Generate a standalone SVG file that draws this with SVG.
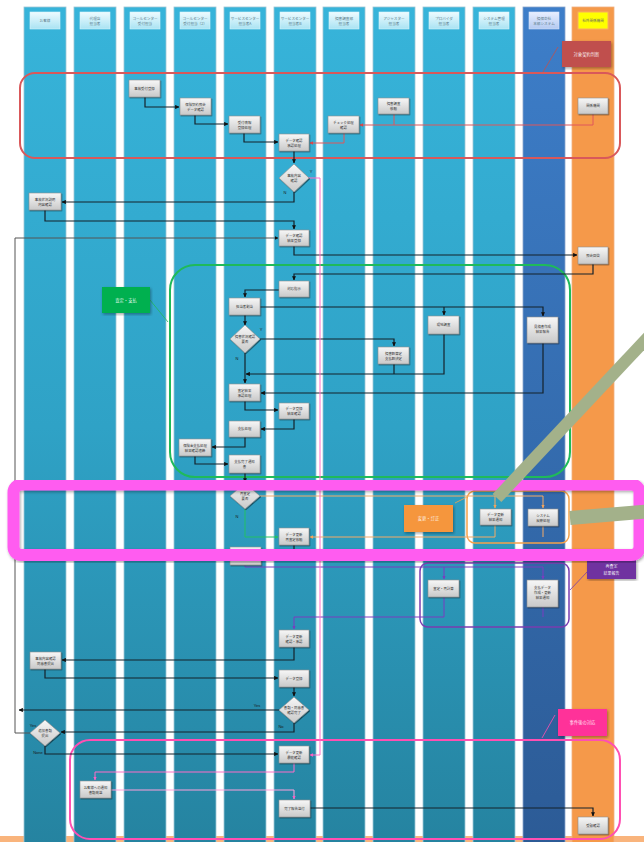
<svg xmlns="http://www.w3.org/2000/svg" width="644" height="842" viewBox="0 0 644 842">
<defs>
<linearGradient id="gl" x1="0" y1="0" x2="0" y2="1"><stop offset="0" stop-color="#37b4da"/><stop offset="0.5" stop-color="#2fa2c6"/><stop offset="1" stop-color="#2583a0"/></linearGradient>
<linearGradient id="gb" x1="0" y1="0" x2="0" y2="1"><stop offset="0" stop-color="#3d7ec9"/><stop offset="1" stop-color="#2c5b96"/></linearGradient>
<linearGradient id="gh" x1="0" y1="0" x2="0" y2="1"><stop offset="0" stop-color="#eefbff"/><stop offset="1" stop-color="#a9e3f3"/></linearGradient>
<linearGradient id="ghb" x1="0" y1="0" x2="0" y2="1"><stop offset="0" stop-color="#e8efff"/><stop offset="1" stop-color="#b3c9f0"/></linearGradient>
<linearGradient id="gn" x1="0" y1="0" x2="0" y2="1"><stop offset="0" stop-color="#f7f7f7"/><stop offset="1" stop-color="#c9c9c9"/></linearGradient>
<filter id="sh" x="-20%" y="-20%" width="150%" height="160%"><feDropShadow dx="0.8" dy="1" stdDeviation="0.7" flood-color="#000" flood-opacity="0.5"/></filter>
<filter id="sh2" x="-5%" y="-5%" width="110%" height="115%"><feDropShadow dx="1" dy="1.5" stdDeviation="1.5" flood-color="#000" flood-opacity="0.35"/></filter>
<marker id="ak" viewBox="0 0 6 6" refX="5.5" refY="3" markerWidth="3.5" markerHeight="3.5" orient="auto"><path d="M0,0 L6,3 L0,6 z" fill="#111"/></marker>
<marker id="ar" viewBox="0 0 6 6" refX="5.5" refY="3" markerWidth="3.5" markerHeight="3.5" orient="auto"><path d="M0,0 L6,3 L0,6 z" fill="#d9484b"/></marker>
<marker id="ap" viewBox="0 0 6 6" refX="5.5" refY="3" markerWidth="3.5" markerHeight="3.5" orient="auto"><path d="M0,0 L6,3 L0,6 z" fill="#ff5fc4"/></marker>
<marker id="ag" viewBox="0 0 6 6" refX="5.5" refY="3" markerWidth="3.5" markerHeight="3.5" orient="auto"><path d="M0,0 L6,3 L0,6 z" fill="#22c065"/></marker>
<marker id="ao" viewBox="0 0 6 6" refX="5.5" refY="3" markerWidth="3.5" markerHeight="3.5" orient="auto"><path d="M0,0 L6,3 L0,6 z" fill="#f5a45a"/></marker>
<marker id="av" viewBox="0 0 6 6" refX="5.5" refY="3" markerWidth="3.5" markerHeight="3.5" orient="auto"><path d="M0,0 L6,3 L0,6 z" fill="#7a3cc0"/></marker>
</defs>
<style>
.lane{fill:url(#gl);stroke:#9cc6d4;stroke-width:0.8}
.hd{fill:url(#gh);stroke:#d8f3fb;stroke-width:0.6}
.nd{fill:url(#gn);stroke:#8e8e8e;stroke-width:0.6;filter:url(#sh)}
.t{font-family:"Noto Sans CJK JP","Noto Sans",sans-serif;font-size:3.4px;fill:#333;text-anchor:middle}
.ht{font-family:"Noto Sans CJK JP","Noto Sans",sans-serif;font-size:3.6px;fill:#5a7a88;text-anchor:middle}
.lt{font-family:"Noto Sans CJK JP","Noto Sans",sans-serif;font-size:4.3px;fill:#fff;fill-opacity:0.9;text-anchor:middle}
.yn{font-family:"Liberation Sans",sans-serif;font-size:4px;fill:#1a1a1a;text-anchor:middle}
.c{fill:none;stroke:#14222b;stroke-width:1.2;marker-end:url(#ak)}
.cr{fill:none;stroke:#e0575a;stroke-width:1;marker-end:url(#ar)}
.cp{fill:none;stroke:#ff6cc8;stroke-width:1;marker-end:url(#ap)}
.cg{fill:none;stroke:#22c065;stroke-width:1;marker-end:url(#ag)}
.co{fill:none;stroke:#f5aa66;stroke-width:1;marker-end:url(#ao)}
.cv{fill:none;stroke:#7a3cc0;stroke-width:1;marker-end:url(#av)}
.grp{fill:none}
</style>
<rect width="644" height="842" fill="#fff"/>
<rect x="0" y="836" width="644" height="6" fill="#f9b47c"/>
<g id="lanes">
<rect class="lane" x="24" y="7" width="42" height="840"/>
<rect class="lane" x="74" y="7" width="42" height="840"/>
<rect class="lane" x="124" y="7" width="42" height="840"/>
<rect class="lane" x="174" y="7" width="42" height="840"/>
<rect class="lane" x="224" y="7" width="42" height="840"/>
<rect class="lane" x="274" y="7" width="42" height="840"/>
<rect class="lane" x="323" y="7" width="42" height="840"/>
<rect class="lane" x="373" y="7" width="42" height="840"/>
<rect class="lane" x="423" y="7" width="42" height="840"/>
<rect class="lane" x="473" y="7" width="42" height="840"/>
<rect x="523" y="7" width="42" height="840" fill="url(#gb)" stroke="#8aa6cc" stroke-width="0.8"/>
<rect x="572" y="7" width="42" height="840" fill="#f5994a" stroke="#f0b080" stroke-width="0.8"/>
</g>
<g id="headers">
<rect class="hd" x="30" y="12" width="30" height="17"/><text class="ht" x="45" y="21.5">お客様</text>
<rect class="hd" x="80" y="12" width="30" height="17"/><text class="ht" x="95" y="19.5">代理店</text><text class="ht" x="95" y="24.5">担当者</text>
<rect class="hd" x="130" y="12" width="30" height="17"/><text class="ht" x="145" y="19.5">コールセンター</text><text class="ht" x="145" y="24.5">受付担当</text>
<rect class="hd" x="180" y="12" width="30" height="17"/><text class="ht" x="195" y="19.5">コールセンター</text><text class="ht" x="195" y="24.5">受付担当（2）</text>
<rect class="hd" x="230" y="12" width="30" height="17"/><text class="ht" x="245" y="19.5">サービスセンター</text><text class="ht" x="245" y="24.5">担当者A</text>
<rect class="hd" x="280" y="12" width="30" height="17"/><text class="ht" x="295" y="19.5">サービスセンター</text><text class="ht" x="295" y="24.5">担当者B</text>
<rect class="hd" x="329" y="12" width="30" height="17"/><text class="ht" x="344" y="19.5">損害調査部</text><text class="ht" x="344" y="24.5">担当者</text>
<rect class="hd" x="379" y="12" width="30" height="17"/><text class="ht" x="394" y="19.5">アジャスター</text><text class="ht" x="394" y="24.5">担当者</text>
<rect class="hd" x="429" y="12" width="30" height="17"/><text class="ht" x="444" y="19.5">プロバイダ</text><text class="ht" x="444" y="24.5">担当者</text>
<rect class="hd" x="479" y="12" width="30" height="17"/><text class="ht" x="494" y="19.5">システム管理</text><text class="ht" x="494" y="24.5">担当者</text>
<rect x="529" y="12" width="30" height="17" fill="url(#ghb)" stroke="#d8e4fb" stroke-width="0.6"/><text class="ht" x="544" y="19.5">損保会社</text><text class="ht" x="544" y="24.5">本部システム</text>
<rect x="578" y="12" width="30" height="17" fill="#ffff00" stroke="#f7b060" stroke-width="1"/><text class="ht" x="593" y="21.5" style="fill:#666">社外関係機関</text>
</g>
<g id="groups">
<rect id="grp-red" class="grp" x="20" y="73" width="600" height="85" rx="15" stroke="#d9585a" stroke-width="2"/>
<rect id="grp-green" class="grp" x="170" y="265" width="400" height="212" rx="25" stroke="#1fba5a" stroke-width="2"/>
<rect id="grp-orange" class="grp" x="467" y="491" width="102" height="52" rx="8" stroke="#f6a24a" stroke-width="1.5"/>
<rect id="grp-purple" class="grp" x="420" y="563" width="149" height="64" rx="8" stroke="#7a3cb0" stroke-width="1.5"/>
<rect id="grp-pink" class="grp" x="70" y="740" width="550" height="99" rx="20" stroke="#ff4fb2" stroke-width="2"/>
</g>
<g id="connectors">
<path class="c" d="M145,97 V107 H179"/>
<path class="c" d="M195,115 V124 H228"/>
<path class="c" d="M244,133 V142 H278"/>
<path class="c" d="M294,151 V163"/>
<path class="c" d="M294,192 V202 H62"/>
<path class="c" d="M45,210 V221 H294 V229"/>
<path class="c" d="M30,733 H15 V238 H278" style="stroke:#555;stroke-width:1"/>
<path class="c" d="M294,246 V255 H577"/>
<path class="c" d="M593,264 V274 H294 V280"/>
<path class="c" d="M279,290 H245 V297"/>
<path class="c" d="M260,307 H543 V316"/>
<path class="c" d="M444,307 V315"/>
<path class="c" d="M245,315 V325"/>
<path class="c" d="M260,339 H394 V346"/>
<path class="c" d="M444,334 V374 H246"/>
<path class="c" d="M394,364 V374" style="marker-end:none"/>
<path class="c" d="M245,353 V383"/>
<path class="c" d="M543,343 V393 H261"/>
<path class="c" d="M245,401 V410 H278"/>
<path class="c" d="M294,419 V429 H261"/>
<path class="c" d="M245,437 V447 H212"/>
<path class="c" d="M195,456 V464 H228"/>
<path class="c" d="M245,473 V482"/>
<path class="co" d="M260,496 H543 V508"/>
<path class="co" d="M495,496 V508"/>
<path class="co" d="M495,525 V537 H310"/>
<path class="co" d="M543,526 V537" style="marker-end:none"/>
<path class="cg" d="M245,509 V537 H278"/>
<path class="c" d="M294,545 V556 H262"/>
<path class="cv" d="M245,565 V567 H543 V579"/>
<path class="cv" d="M444,567 V579"/>
<path class="cv" d="M444,597 V617 H294 V629"/>
<path class="cv" d="M543,607 V617" style="marker-end:none"/>
<path class="c" d="M294,647 V660 H62"/>
<path class="c" d="M45,669 V678 H278"/>
<path class="c" d="M294,687 V696"/>
<path class="c" d="M279,710 H19"/>
<path class="c" d="M294,723 V732 H61"/>
<path class="c" d="M45,746 V754 H278"/>
<path class="cp" d="M308,178 H320 V755 H310"/>
<path class="cp" d="M294,763 V772 H95 V780"/>
<path class="cp" d="M111,790 H294 V799" style="stroke:#ffa0dc"/>
<path class="c" d="M310,808 H593 V816"/>
<path class="cr" d="M593,114 V125 H360"/>
<path class="cr" d="M394,114 V125" style="marker-end:none"/>
<path class="cr" d="M344,133 V143 H310"/>
<path d="M558,47 L543,72" stroke="#c0504d" stroke-width="0.8" fill="none"/>
<path d="M150,300 L168,322" stroke="#1fba5a" stroke-width="0.8" fill="none"/>
<path d="M455,503 L467,497" stroke="#f6a24a" stroke-width="0.8" fill="none"/>
<path d="M587,572 L570,590" stroke="#7a3cb0" stroke-width="0.8" fill="none"/>
<path d="M555,715 L542,738" stroke="#ff4fb2" stroke-width="0.8" fill="none"/>
<text class="yn" x="311" y="173">Y</text><text class="yn" x="285" y="194">N</text>
<text class="yn" x="261" y="331">Y</text><text class="yn" x="237" y="360">N</text>
<text class="yn" x="237" y="518">N</text>
<text class="yn" x="257" y="707">Yes</text><text class="yn" x="281" y="728">No</text>
<text class="yn" x="33" y="727">Yes</text><text class="yn" x="38" y="754">None</text>
</g>
<g id="nA"><rect class="nd" x="129" y="80" width="31" height="17"/><text class="t" x="144.5" y="89.8">事故受付登録</text></g>
<g id="nB"><rect class="nd" x="180" y="98" width="31" height="17"/><text class="t" x="195.5" y="105.5">保険契約照会</text><text class="t" x="195.5" y="110.5">データ確認</text></g>
<g id="nC"><rect class="nd" x="229" y="116" width="31" height="17"/><text class="t" x="244.5" y="123.5">受付情報</text><text class="t" x="244.5" y="128.5">登録処理</text></g>
<g id="nD"><rect class="nd" x="279" y="134" width="30" height="17"/><text class="t" x="294" y="141.5">データ確認</text><text class="t" x="294" y="146.5">承認処理</text></g>
<g id="nE"><rect class="nd" x="328" y="116" width="31" height="17"/><text class="t" x="343.5" y="123.5">チェック処理</text><text class="t" x="343.5" y="128.5">確認</text></g>
<g id="nF"><rect class="nd" x="378" y="98" width="31" height="16"/><text class="t" x="393.5" y="105">損害調査</text><text class="t" x="393.5" y="110">依頼</text></g>
<g id="nG"><rect class="nd" x="578" y="98" width="30" height="16"/><text class="t" x="593" y="107.2">関係機関</text></g>
<g id="d1"><path class="nd" d="M294,164 L309,178 L294,192 L279,178 Z"/><text class="t" x="294" y="177">事故内容</text><text class="t" x="294" y="181.5">確認</text></g>
<g id="nH"><rect class="nd" x="29" y="193" width="32" height="17"/><text class="t" x="45" y="200.5">事故状況説明</text><text class="t" x="45" y="205.5">内容確認</text></g>
<g id="nI"><rect class="nd" x="279" y="230" width="30" height="16"/><text class="t" x="294" y="237">データ確認</text><text class="t" x="294" y="242">結果登録</text></g>
<g id="nJ"><rect class="nd" x="578" y="247" width="30" height="17"/><text class="t" x="593" y="256.7">照会回答</text></g>
<g id="nK"><rect class="nd" x="279" y="281" width="30" height="16"/><text class="t" x="294" y="290.2">対応指示</text></g>
<g id="nL"><rect class="nd" x="229" y="298" width="31" height="17"/><text class="t" x="244.5" y="307.7">担当者割当</text></g>
<g id="d2"><path class="nd" d="M245,325 L260,339 L245,353 L230,339 Z"/><text class="t" x="245" y="338">損害状況確認</text><text class="t" x="245" y="342.5">要否</text></g>
<g id="nP"><rect class="nd" x="428" y="316" width="31" height="18"/><text class="t" x="443.5" y="326.2">現地調査</text></g>
<g id="nQ"><rect class="nd" x="527" y="317" width="31" height="26"/><text class="t" x="542.5" y="328">見積書作成</text><text class="t" x="542.5" y="333">結果報告</text></g>
<g id="nR"><rect class="nd" x="378" y="347" width="31" height="17"/><text class="t" x="393.5" y="354.5">損害額算定</text><text class="t" x="393.5" y="359.5">支払額決定</text></g>
<g id="nS"><rect class="nd" x="229" y="384" width="31" height="17"/><text class="t" x="244.5" y="391.5">査定結果</text><text class="t" x="244.5" y="396.5">承認処理</text></g>
<g id="nT"><rect class="nd" x="279" y="403" width="30" height="16"/><text class="t" x="294" y="410">データ登録</text><text class="t" x="294" y="415">結果確認</text></g>
<g id="nU"><rect class="nd" x="229" y="421" width="31" height="16"/><text class="t" x="244.5" y="430.2">支払処理</text></g>
<g id="nV"><rect class="nd" x="179" y="439" width="32" height="17"/><text class="t" x="195" y="446.5">保険金支払処理</text><text class="t" x="195" y="451.5">結果確認連絡</text></g>
<g id="nW"><rect class="nd" x="229" y="455" width="31" height="18"/><text class="t" x="244.5" y="463">支払完了通知</text><text class="t" x="244.5" y="468">書</text></g>
<g id="d3"><path class="nd" d="M245,483 L260,496 L245,509 L230,496 Z"/><text class="t" x="245" y="495">再査定</text><text class="t" x="245" y="499.5">要否</text></g>
<g id="nX"><rect class="nd" x="279" y="528" width="30" height="17"/><text class="t" x="294" y="535.5">データ更新</text><text class="t" x="294" y="540.5">再査定依頼</text></g>
<g id="nY"><rect class="nd" x="480" y="509" width="31" height="16"/><text class="t" x="495.5" y="516">データ更新</text><text class="t" x="495.5" y="521">結果通知</text></g>
<g id="nZ"><rect class="nd" x="528" y="509" width="30" height="17"/><text class="t" x="543" y="516.5">システム</text><text class="t" x="543" y="521.5">反映処理</text></g>
<g id="nW2"><rect class="nd" x="230" y="547" width="31" height="18"/><text class="t" x="245.5" y="557.2">再査定</text></g>
<g id="nAA"><rect class="nd" x="428" y="580" width="31" height="17"/><text class="t" x="443.5" y="589.7">査定・再計算</text></g>
<g id="nAB"><rect class="nd" x="527" y="580" width="31" height="27"/><text class="t" x="542.5" y="588.5">支払データ</text><text class="t" x="542.5" y="593.5">作成・更新</text><text class="t" x="542.5" y="598.5">結果通知</text></g>
<g id="nAC"><rect class="nd" x="279" y="630" width="30" height="17"/><text class="t" x="294" y="637.5">データ更新</text><text class="t" x="294" y="642.5">確認・承認</text></g>
<g id="nAD"><rect class="nd" x="30" y="652" width="31" height="17"/><text class="t" x="45.5" y="659.5">事故内容確認</text><text class="t" x="45.5" y="664.5">同意書提出</text></g>
<g id="nAE"><rect class="nd" x="279" y="670" width="30" height="17"/><text class="t" x="294" y="679.7">データ登録</text></g>
<g id="d4"><path class="nd" d="M294,697 L309,710 L294,723 L279,710 Z"/><text class="t" x="294" y="709">書類・同意書</text><text class="t" x="294" y="713.5">確認完了</text></g>
<g id="d5"><path class="nd" d="M45,720 L60,733 L45,746 L30,733 Z"/><text class="t" x="45" y="732">追加書類</text><text class="t" x="45" y="736.5">提出</text></g>
<g id="nAF"><rect class="nd" x="279" y="746" width="30" height="17"/><text class="t" x="294" y="753.5">データ更新</text><text class="t" x="294" y="758.5">最終確認</text></g>
<g id="nAG"><rect class="nd" x="80" y="781" width="31" height="17"/><text class="t" x="95.5" y="788.5">お客様への通知</text><text class="t" x="95.5" y="793.5">書類発送</text></g>
<g id="nAH"><rect class="nd" x="279" y="800" width="31" height="17"/><text class="t" x="294.5" y="809.7">完了報告送付</text></g>
<g id="nAI"><rect class="nd" x="578" y="817" width="30" height="17"/><text class="t" x="593" y="826.7">受領確認</text></g>
<g id="lbl-red"><rect x="562" y="41" width="49" height="26" fill="#c0504d" filter="url(#sh2)"/><text class="lt" x="586.5" y="55.5">対象契約判断</text></g>
<g id="lbl-green"><rect x="102" y="287" width="48" height="26" fill="#00b050" filter="url(#sh2)"/><text class="lt" x="126" y="301.5">査定・支払</text></g>
<g id="lbl-orange"><rect x="404" y="505" width="49" height="27" fill="#f5963d" filter="url(#sh2)"/><text class="lt" x="428.5" y="520">変更・訂正</text></g>
<g id="lbl-purple"><rect x="587" y="560" width="49" height="19" fill="#7030a0" filter="url(#sh2)"/><text class="lt" x="611.5" y="568" style="font-size:4px">再査定</text><text class="lt" x="611.5" y="574.5" style="font-size:4px">結果報告</text></g>
<g id="lbl-pink"><rect x="558" y="709" width="49" height="27" fill="#ff3399" filter="url(#sh2)"/><text class="lt" x="582.5" y="724">事件後の対応</text></g>
<g id="highlight">
<rect x="13.5" y="484.5" width="626" height="70.5" rx="8" fill="none" stroke="#ff5cf0" stroke-width="12" filter="url(#sh2)"/>
<path d="M497,498 L652,333" stroke="#a3b18a" stroke-width="12" fill="none"/>
<path d="M570,518 L652,511" stroke="#a3b18a" stroke-width="14" fill="none"/>
</g>
</svg>
